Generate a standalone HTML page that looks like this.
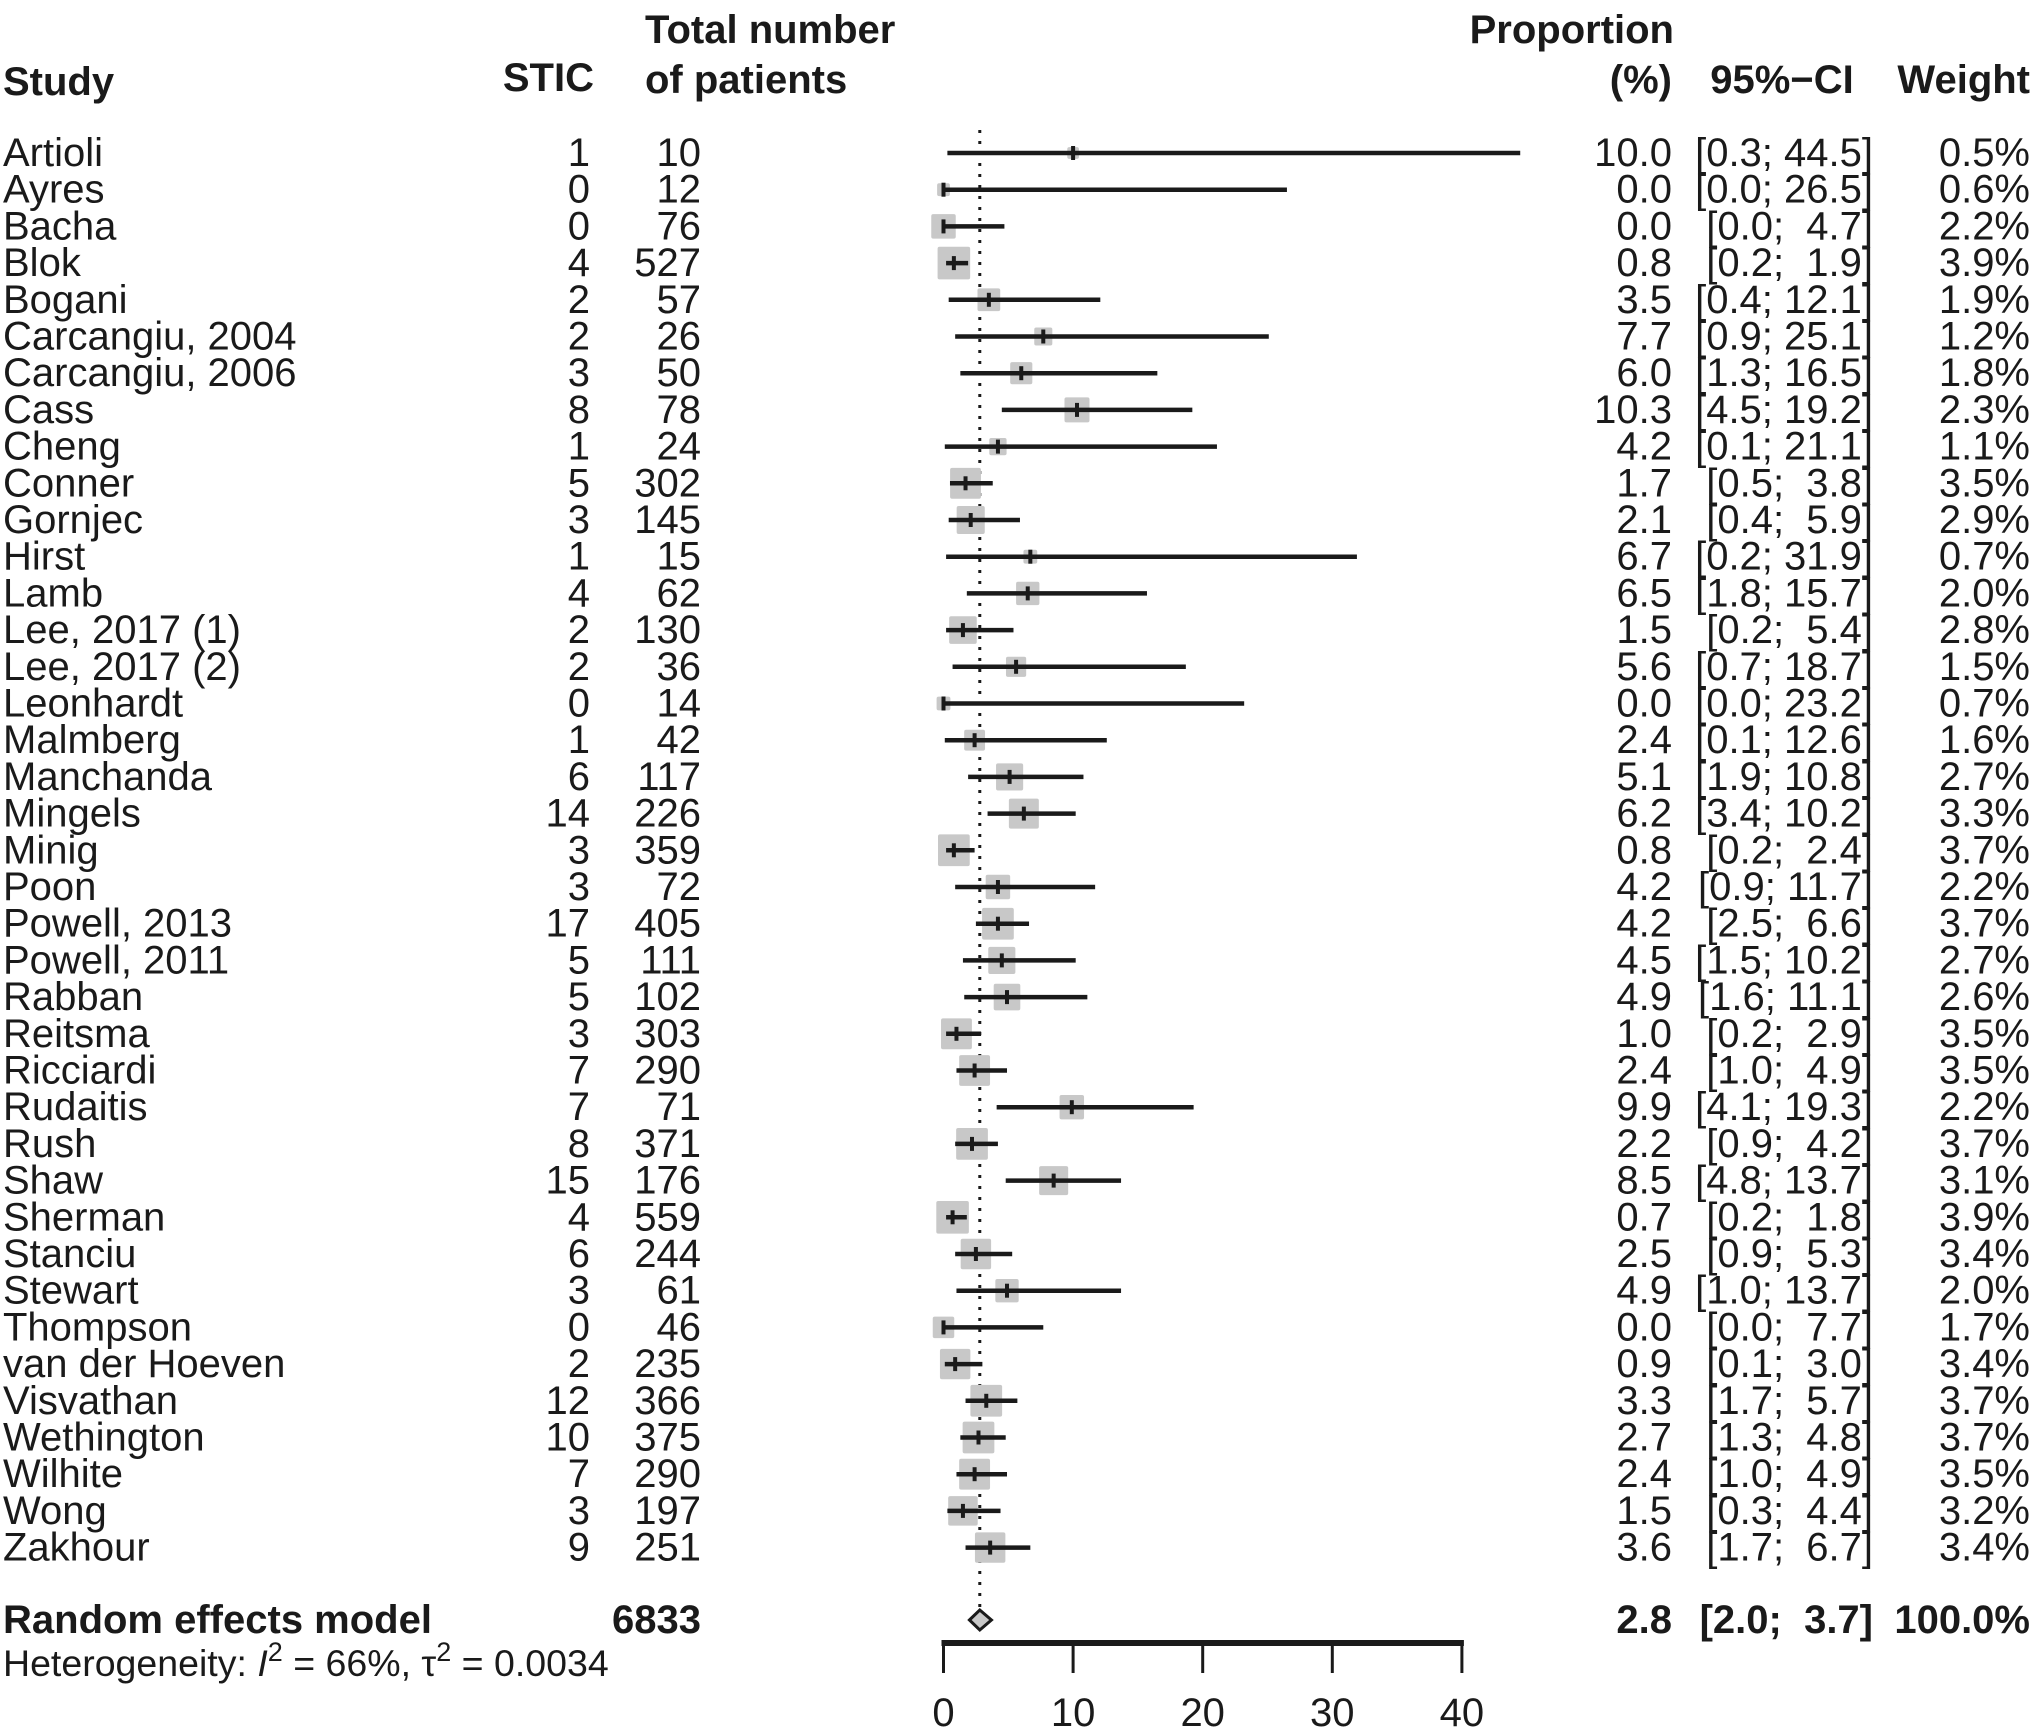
<!DOCTYPE html>
<html><head><meta charset="utf-8"><style>
html,body{margin:0;padding:0;background:#fff;}
svg{display:block;}
text{font-family:"Liberation Sans",sans-serif;fill:#1a1a1a;}
</style></head>
<body>
<svg id="chart" width="2032" height="1729" viewBox="0 0 2032 1729" xmlns="http://www.w3.org/2000/svg">
<g font-weight="bold" font-size="40">
<text x="3" y="82" dominant-baseline="central">Study</text>
<text x="594" y="78" text-anchor="end" dominant-baseline="central">STIC</text>
<text x="645" y="30" dominant-baseline="central">Total number</text>
<text x="645" y="80" dominant-baseline="central">of patients</text>
<text x="1674" y="30" text-anchor="end" dominant-baseline="central">Proportion</text>
<text x="1672" y="80" text-anchor="end" dominant-baseline="central">(%)</text>
<text x="1782" y="80" text-anchor="middle" dominant-baseline="central">95%−CI</text>
<text x="2030" y="80" text-anchor="end" dominant-baseline="central">Weight</text>
</g>
<g id="rows"></g>
<g id="plot"></g>
</svg>
<script>
const studies=["Artioli","Ayres","Bacha","Blok","Bogani","Carcangiu, 2004","Carcangiu, 2006","Cass","Cheng","Conner","Gornjec","Hirst","Lamb","Lee, 2017 (1)","Lee, 2017 (2)","Leonhardt","Malmberg","Manchanda","Mingels","Minig","Poon","Powell, 2013","Powell, 2011","Rabban","Reitsma","Ricciardi","Rudaitis","Rush","Shaw","Sherman","Stanciu","Stewart","Thompson","van der Hoeven","Visvathan","Wethington","Wilhite","Wong","Zakhour"];
const events=[1,0,0,4,2,2,3,8,1,5,3,1,4,2,2,0,1,6,14,3,3,17,5,5,3,7,7,8,15,4,6,3,0,2,12,10,7,3,9];
const totals=[10,12,76,527,57,26,50,78,24,302,145,15,62,130,36,14,42,117,226,359,72,405,111,102,303,290,71,371,176,559,244,61,46,235,366,375,290,197,251];
const props=[10.0,0.0,0.0,0.8,3.5,7.7,6.0,10.3,4.2,1.7,2.1,6.7,6.5,1.5,5.6,0.0,2.4,5.1,6.2,0.8,4.2,4.2,4.5,4.9,1.0,2.4,9.9,2.2,8.5,0.7,2.5,4.9,0.0,0.9,3.3,2.7,2.4,1.5,3.6];
const lows=[0.3,0.0,0.0,0.2,0.4,0.9,1.3,4.5,0.1,0.5,0.4,0.2,1.8,0.2,0.7,0.0,0.1,1.9,3.4,0.2,0.9,2.5,1.5,1.6,0.2,1.0,4.1,0.9,4.8,0.2,0.9,1.0,0.0,0.1,1.7,1.3,1.0,0.3,1.7];
const highs=[44.5,26.5,4.7,1.9,12.1,25.1,16.5,19.2,21.1,3.8,5.9,31.9,15.7,5.4,18.7,23.2,12.6,10.8,10.2,2.4,11.7,6.6,10.2,11.1,2.9,4.9,19.3,4.2,13.7,1.8,5.3,13.7,7.7,3.0,5.7,4.8,4.9,4.4,6.7];
const weights=[0.5,0.6,2.2,3.9,1.9,1.2,1.8,2.3,1.1,3.5,2.9,0.7,2.0,2.8,1.5,0.7,1.6,2.7,3.3,3.7,2.2,3.7,2.7,2.6,3.5,3.5,2.2,3.7,3.1,3.9,3.4,2.0,1.7,3.4,3.7,3.7,3.5,3.2,3.4];
const pooled=[2.8,2.0,3.7];
const pooledTotal=6833;
const ticks=[0,10,20,30,40];

const NS="http://www.w3.org/2000/svg";
const x=v=>943.5+v*12.96;
const y=i=>153+i*36.7;
const rows=document.getElementById('rows'), plot=document.getElementById('plot');
function mk(tag,attrs,parent,txt){const e=document.createElementNS(NS,tag);for(const k in attrs)e.setAttribute(k,attrs[k]);if(txt!==undefined)e.textContent=txt;parent.appendChild(e);return e;}
function tx(xp,yp,s,anchor,parent,size,bold){const t=mk('text',{x:xp,y:yp,'text-anchor':anchor||'start','dominant-baseline':'central','font-size':size||39},parent,s);t.setAttribute('xml:space','preserve');t.style.whiteSpace='pre';if(bold)t.setAttribute('font-weight','bold');return t;}
const f1=v=>v.toFixed(1);
const ref=mk('line',{x1:x(pooled[0]),x2:x(pooled[0]),y1:130,y2:1608,stroke:'#1a1a1a','stroke-width':3,'stroke-dasharray':'3 8'},plot);


studies.forEach((s,i)=>{
  const yy=y(i);
  let t=tx(3,yy,s,'start',rows,40);
  
  
  t=tx(590,yy,String(events[i]),'end',rows,40);
  
  
  t=tx(701,yy,String(totals[i]),'end',rows,40);
  
  
  t=tx(1672,yy,f1(props[i]),'end',rows,40);
  
  
  t=tx(1873,yy,'['+f1(lows[i])+'; '+f1(highs[i]).padStart(4,' ')+']','end',rows,40);
  
  
  t=tx(2030,yy,f1(weights[i])+'%','end',rows,40);
  
  
  const side=16.5*Math.sqrt(weights[i]);
  const sq=mk('rect',{x:x(props[i])-side/2,y:yy-side/2,width:side,height:side,fill:'#c8c8c8',rx:2},plot);
  
  
  const ln=mk('line',{x1:x(lows[i]),x2:x(highs[i]),y1:yy,y2:yy,stroke:'#1a1a1a','stroke-width':4.5},plot);
  
  
  const pt=mk('line',{x1:x(props[i]),x2:x(props[i]),y1:yy-7,y2:yy+7,stroke:'#1a1a1a','stroke-width':4},plot);
  
  
});
const yp=1620;
let t=tx(3,yp,'Random effects model','start',rows,40,true);


t=tx(701,yp,String(pooledTotal),'end',rows,40,true);


t=tx(1672,yp,f1(pooled[0]),'end',rows,40,true);


t=tx(1873,yp,'['+f1(pooled[1])+'; '+f1(pooled[2]).padStart(4,' ')+']','end',rows,40,true);


t=tx(2030,yp,'100.0%','end',rows,40,true);


const dia=mk('polygon',{points:`${x(pooled[1])},${yp} ${x(pooled[0])},${yp-10} ${x(pooled[2])},${yp} ${x(pooled[0])},${yp+10}`,fill:'#c8c8c8',stroke:'#1a1a1a','stroke-width':3},plot);


const het=mk('text',{x:3,y:1676,'font-size':37.5},rows);


het.innerHTML='Heterogeneity: <tspan font-style="italic">I</tspan><tspan dy="-15" font-size="27">2</tspan><tspan dy="15"> = 66%, τ</tspan><tspan dy="-15" font-size="27">2</tspan><tspan dy="15"> = 0.0034</tspan>';
const ax=mk('line',{x1:x(ticks[0])-2,x2:x(ticks[ticks.length-1])+2,y1:1643,y2:1643,stroke:'#1a1a1a','stroke-width':6},plot);


ticks.forEach(v=>{
  const tk=mk('line',{x1:x(v),x2:x(v),y1:1643,y2:1673,stroke:'#1a1a1a','stroke-width':3},plot);
  
  
  const lb=tx(x(v),1713,String(v),'middle',plot,40);
  
  
});
</script>
</body></html>
